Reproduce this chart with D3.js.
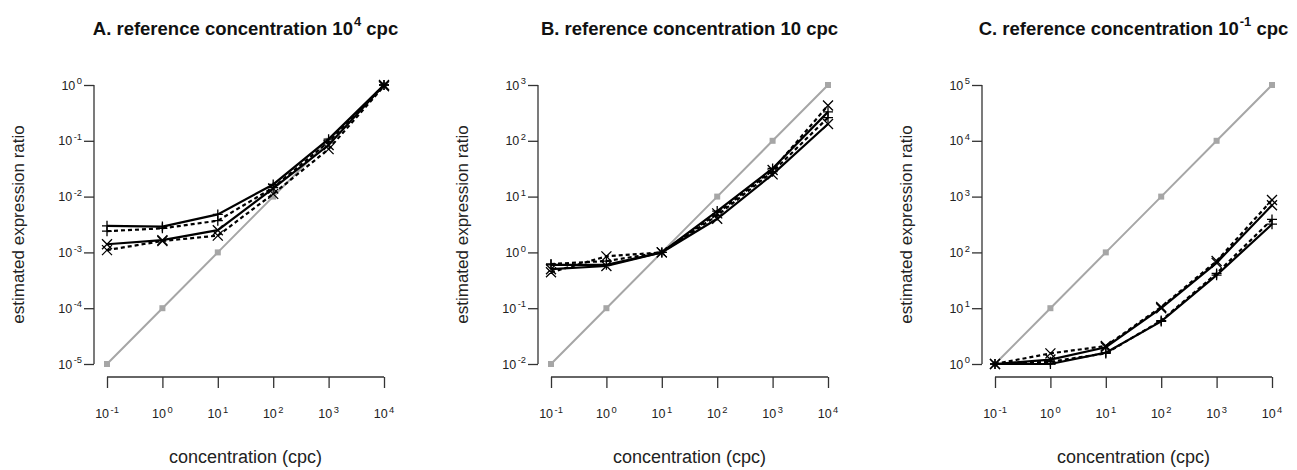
<!DOCTYPE html>
<html>
<head>
<meta charset="utf-8">
<script src="https://cdn.jsdelivr.net/npm/d3@7"></script>
<style>
  body { margin: 0; background: #fff; }
  svg { display: block; font-family: 'Liberation Sans', Arial, sans-serif; }
</style>
</head>
<body>
<svg id="chart" width="1297" height="470"></svg>
<script>
// concentrations on the x axis (cpc)
const conc = [0.1, 1, 10, 100, 1000, 10000]
const xTickExp = ['-1', '0', '1', '2', '3', '4']

const titleLead = ['A. reference concentration 10', 'B. reference concentration 10', 'C. reference concentration 10']
const titleExp = ['4', '', '-1']
const refConc = [1e4, 10, 0.1]

// estimated ratios, one array per curve
const estA_plus = [3.0e-3, 2.9e-3, 4.8e-3, 1.65e-2, 0.107, 1.0]
const estA_plusDash = [2.4e-3, 2.7e-3, 3.7e-3, 1.45e-2, 0.096, 1.0]
const estA_cross = [1.4e-3, 1.66e-3, 2.5e-3, 1.4e-2, 0.084, 1.0]
const estA_crossDash = [1.1e-3, 1.6e-3, 2.0e-3, 1.12e-2, 0.071, 0.95]

const estB_plus = [0.6, 0.6, 1.0, 5.5, 32, 330]
const estB_plusDash = [0.62, 0.7, 1.0, 4.6, 28, 260]
const estB_cross = [0.5, 0.57, 1.0, 4.0, 25, 200]
const estB_crossDash = [0.44, 0.85, 1.0, 5.0, 30, 430]

const estC_plus = [1.0, 1.0, 1.6, 5.8, 39, 320]
const estC_plusDash = [1.0, 1.1, 1.55, 6.0, 42, 390]
const estC_cross = [1.0, 1.2, 2.0, 10, 65, 700]
const estC_crossDash = [1.0, 1.55, 2.1, 10.5, 70, 870]

const estimates = [
  [estA_plus, estA_plusDash, estA_cross, estA_crossDash],
  [estB_plus, estB_plusDash, estB_cross, estB_crossDash],
  [estC_plus, estC_plusDash, estC_cross, estC_crossDash]
]
const curveStyle = [
  { dash: null, mark: 'plus' },
  { dash: '4,3', mark: 'plus' },
  { dash: null, mark: 'cross' },
  { dash: '4,3', mark: 'cross' }
]

const panelLeft = [107, 551, 995]
const plotW = 277
const plotTop = 85
const plotBottom = 364

const svg = d3.select('#chart')
const axisColor = '#333'

function powerLabel(sel, exp, size) {
  sel.append('tspan').text('10')
  sel.append('tspan')
    .attr('font-size', size * 0.75)
    .attr('dx', 1.5)
    .attr('dy', -size * 0.42)
    .text(exp)
}

refConc.forEach((ref, p) => {
  const x0 = panelLeft[p]
  const x = d3.scaleLog().domain([conc[0], conc[conc.length - 1]]).range([x0, x0 + plotW])
  const yDomain = [conc[0] / ref, conc[conc.length - 1] / ref]
  const y = d3.scaleLog().domain(yDomain).range([plotBottom, plotTop])
  const g = svg.append('g')

  // title
  const title = g.append('text')
    .attr('x', x0 + plotW / 2)
    .attr('y', 35)
    .attr('text-anchor', 'middle')
    .attr('font-size', 18.5)
    .attr('font-weight', 'bold')
    .attr('fill', '#111')
  title.append('tspan').text(titleLead[p])
  if (titleExp[p]) {
    title.append('tspan').attr('font-size', 13).attr('dx', 1).attr('dy', -9).text(titleExp[p])
    title.append('tspan').attr('dy', 9).text(' cpc')
  } else {
    title.append('tspan').text(' cpc')
  }

  // y axis
  const axisX = x0 - 13
  const yTicks = d3.range(Math.log10(yDomain[0]), Math.log10(yDomain[1]) + 0.5).map(e => Math.round(e))
  const yAxis = g.append('g')
    .attr('transform', `translate(${axisX},0)`)
    .call(d3.axisLeft(y).tickValues(yTicks.map(e => Math.pow(10, e))).tickSize(10).tickFormat(''))
  yAxis.select('.domain').attr('stroke', axisColor).attr('stroke-width', 1.3).attr('d', `M0,${plotBottom}V${plotTop}`)
  yAxis.selectAll('.tick line').attr('stroke', axisColor).attr('stroke-width', 1.3)
  yTicks.forEach(e => {
    const t = g.append('text')
      .attr('x', axisX - 12)
      .attr('y', y(Math.pow(10, e)) + 4.5)
      .attr('text-anchor', 'end')
      .attr('font-size', 12.5)
      .attr('fill', '#222')
    powerLabel(t, String(e), 12.5)
  })
  g.append('text')
    .attr('transform', `translate(${axisX - 76},${(plotTop + plotBottom) / 2}) rotate(-90)`)
    .attr('text-anchor', 'middle')
    .attr('dy', '0.35em')
    .attr('font-size', 17)
    .attr('fill', '#222')
    .text('estimated expression ratio')

  // x axis
  const xAxis = g.append('g')
    .attr('transform', `translate(0,${plotBottom + 13})`)
    .call(d3.axisBottom(x).tickValues(conc).tickSize(11).tickFormat(''))
  xAxis.select('.domain').attr('stroke', axisColor).attr('stroke-width', 1.3).attr('d', `M${x0},0H${x0 + plotW}`)
  xAxis.selectAll('.tick line').attr('stroke', axisColor).attr('stroke-width', 1.3)
  conc.forEach((c, i) => {
    const t = g.append('text')
      .attr('x', x(c))
      .attr('y', 418)
      .attr('text-anchor', 'middle')
      .attr('font-size', 12.5)
      .attr('fill', '#222')
    powerLabel(t, xTickExp[i], 12.5)
  })
  g.append('text')
    .attr('x', x0 + plotW / 2)
    .attr('y', 463)
    .attr('text-anchor', 'middle')
    .attr('font-size', 18)
    .attr('fill', '#222')
    .text('concentration (cpc)')

  // reference (true ratio) line
  const refVals = conc.map(c => c / ref)
  const line = d3.line().x((d, i) => x(conc[i])).y(d => y(d))
  g.append('path')
    .attr('d', line(refVals))
    .attr('fill', 'none')
    .attr('stroke', '#a6a6a6')
    .attr('stroke-width', 2)
  g.selectAll('.refpt').data(refVals).enter().append('rect')
    .attr('x', (d, i) => x(conc[i]) - 3)
    .attr('y', d => y(d) - 3)
    .attr('width', 6)
    .attr('height', 6)
    .attr('fill', '#a6a6a6')

  // estimated curves
  estimates[p].forEach((vals, s) => {
    const st = curveStyle[s]
    g.append('path')
      .attr('d', line(vals))
      .attr('fill', 'none')
      .attr('stroke', '#000')
      .attr('stroke-width', 2.2)
      .attr('stroke-dasharray', st.dash)
    const r = 5
    const markPath = st.mark === 'plus'
      ? (cx, cy) => `M${cx - r},${cy}H${cx + r}M${cx},${cy - r}V${cy + r}`
      : (cx, cy) => `M${cx - r},${cy - r}L${cx + r},${cy + r}M${cx - r},${cy + r}L${cx + r},${cy - r}`
    g.append('path')
      .attr('d', vals.map((v, i) => markPath(x(conc[i]), y(v))).join(''))
      .attr('stroke', '#000')
      .attr('stroke-width', 1.3)
      .attr('fill', 'none')
  })
})
</script>
</body>
</html>
